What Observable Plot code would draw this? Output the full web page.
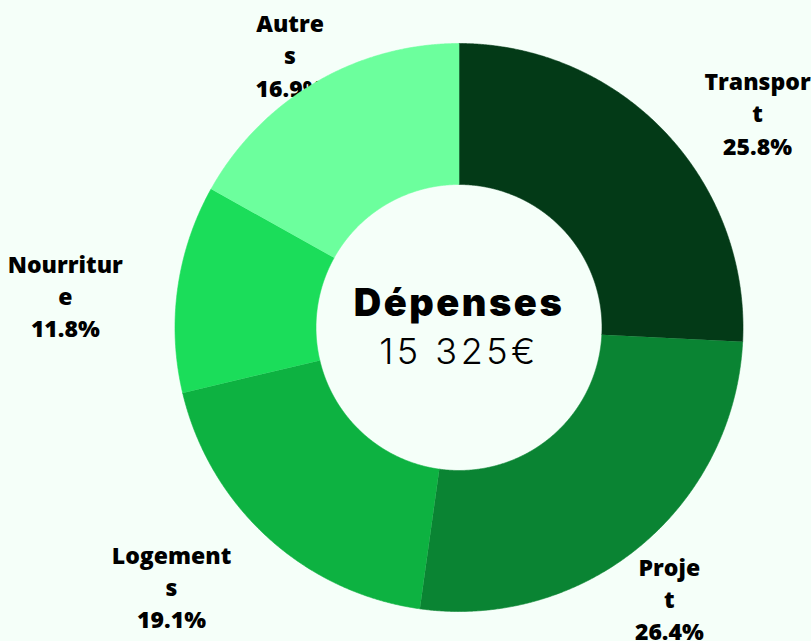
<!DOCTYPE html>
<html>
<head>
<meta charset="utf-8">
<script src="https://cdn.jsdelivr.net/npm/d3@7"></script>
<script src="https://cdn.jsdelivr.net/npm/@observablehq/plot@0.6"></script>
<style>
  html, body { margin: 0; padding: 0; background: #f5fff9; }
  #chart svg { display: block; background: #f5fff9; }
  .center-title text { letter-spacing: 2.5px; }
  .center-value text { letter-spacing: 3.5px; }
</style>
</head>
<body>
<div id="chart"></div>
<script>
// ---- Data ----
const categories = ["Transport", "Projet", "Logements", "Nourriture", "Autres"];
const shares = [25.8, 26.4, 19.1, 11.8, 16.9];
const labelLines = ["Transpor\nt", "Proje\nt", "Logement\ns", "Nourritur\ne", "Autre\ns"];
const colors = ["#033a17", "#0a8433", "#0db241", "#1bdd5a", "#6cff9d"];
const centerTitle = "Dépenses";
const centerValue = "15 325€";

// ---- Layout ----
const W = 811, H = 641;
const cx = 458.5, cy = 327, R = 284, rInner = 143;
const labelRadius = 1.3;
const labelNudge = {
  Transport: [31, 39],
  Projet: [-25, -14],
  Logements: [-39, -15],
  Nourriture: [-28, 18],
  Autres: [18, 45]
};

const table = categories.map((c, i) => ({cat: c, share: shares[i], label: labelLines[i] + "\n" + shares[i].toFixed(1) + "%"}));
const arcs = d3.pie().sort(null).value(d => d.share).startAngle(0).endAngle(2 * Math.PI)(table);

// slice polygons in units of R (y up), angle measured clockwise from top
const polyRows = [];
for (const a of arcs) {
  const n = Math.max(2, Math.ceil((a.endAngle - a.startAngle) / 0.005));
  const k = rInner / R;
  for (let j = 0; j <= n; j++) {
    const t = a.startAngle + (a.endAngle - a.startAngle) * j / n;
    polyRows.push({cat: a.data.cat, x: Math.sin(t), y: Math.cos(t)});
  }
  for (let j = n; j >= 0; j--) {
    const t = a.startAngle + (a.endAngle - a.startAngle) * j / n;
    polyRows.push({cat: a.data.cat, x: k * Math.sin(t), y: k * Math.cos(t)});
  }
}

const labelRows = arcs.map(a => {
  const m = (a.startAngle + a.endAngle) / 2;
  return {cat: a.data.cat, label: a.data.label, x: labelRadius * Math.sin(m), y: labelRadius * Math.cos(m)};
});

const labelMarks = labelRows.map(d => Plot.text([d], {
  x: "x", y: "y", text: "label",
  dx: labelNudge[d.cat][0], dy: labelNudge[d.cat][1],
  textAnchor: "middle", lineAnchor: "middle", lineHeight: 1.4,
  fontSize: 23, fontWeight: 800, fontFamily: "Open Sans", fill: "#000"
}));

const chart = Plot.plot({
  width: W, height: H,
  margin: 0,
  x: {domain: [-cx / R, (W - cx) / R], range: [0, W], axis: null},
  y: {domain: [-(H - cy) / R, cy / R], range: [H, 0], axis: null},
  color: {domain: categories, range: colors},
  style: {background: "#f5fff9"},
  marks: [
    ...labelMarks,
    Plot.line(polyRows, {x: "x", y: "y", z: "cat", fill: "cat", stroke: "cat", strokeWidth: 0.6, curve: "linear"}),
    Plot.text([centerTitle], {x: () => 0, y: () => 0, text: d => d, dy: -24, fontSize: 38, fontWeight: 900, fontFamily: "Inter", fill: "#000", textAnchor: "middle", lineAnchor: "middle", className: "center-title"}),
    Plot.text([centerValue], {x: () => 0, y: () => 0, text: d => d, dy: 25, fontSize: 36, fontWeight: 300, fontFamily: "Inter", fill: "#000", textAnchor: "middle", lineAnchor: "middle", className: "center-value"})
  ]
});
document.getElementById("chart").appendChild(chart);
</script>
</body>
</html>
